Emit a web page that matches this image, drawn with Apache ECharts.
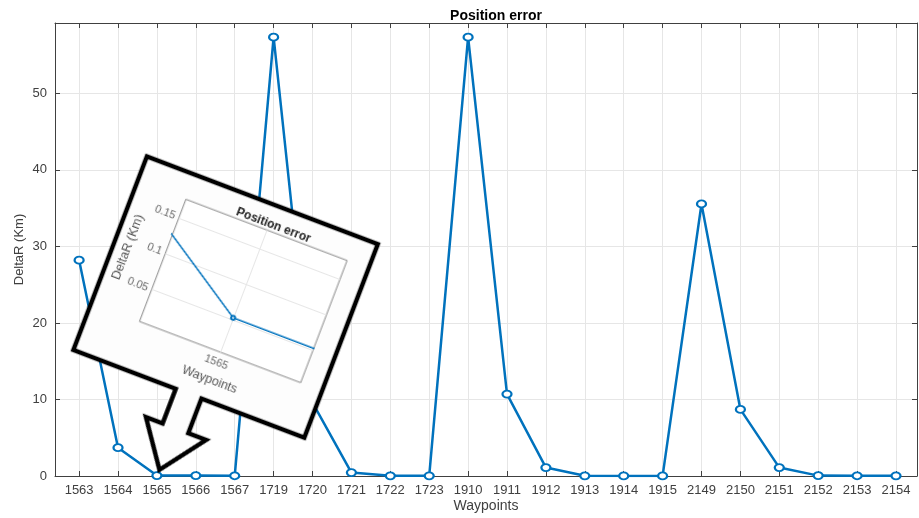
<!DOCTYPE html>
<html>
<head>
<meta charset="utf-8">
<title>Position error</title>
<script src="https://cdn.jsdelivr.net/npm/echarts@6.0.0/dist/echarts.min.js"></script>
<style>
  html, body { margin: 0; padding: 0; background: #fff; }
  #wrap { position: relative; width: 919px; height: 518px; overflow: hidden; }
  #main { width: 919px; height: 518px; }
  /* callout with the zoomed view, tilted like the pasted screenshot */
  #inset {
    position: absolute; left: 144.4px; top: 150.3px;
    width: 262px; height: 302px;
    transform-origin: 0 0; transform: rotate(20.8deg);
  }
</style>
</head>
<body>
<div id="wrap">
  <div id="main"></div>
  <div id="inset"></div>
</div>
<script>
const waypoints = ['1563', '1564', '1565', '1566', '1567', '1719', '1720', '1721', '1722', '1723', '1910',
  '1911', '1912', '1913', '1914', '1915', '2149', '2150', '2151', '2152', '2153', '2154']
const deltaR = [28.2, 3.7, 0.053, 0.053, 0.03, 57.35, 9.6, 0.45, 0.02, 0.02, 57.35,
  10.7, 1.1, 0.02, 0.01, 0.01, 35.55, 8.7, 1.1, 0.05, 0.03, 0.02]
const yTicks = [0, 10, 20, 30, 40, 50]
const insetYTicks = [0.05, 0.1, 0.15]
const insetXTicks = [2] // index of 1565

const font = 'Arial, "Liberation Sans", Helvetica, sans-serif'
const axisGray = '#404040'
const gridGray = '#e6e6e6'
const lineBlue = '#0072BD'

const xIdx = waypoints.map((_, i) => i)
const points = deltaR.map((v, i) => [i, v])

// Main chart
const main = echarts.init(document.getElementById('main'))
const xBase = {
  type: 'value',
  min: -0.62,
  max: 21.54,
  axisLine: { show: true, onZero: false, lineStyle: { color: axisGray } },
  axisTick: { show: true, inside: true, length: 5, customValues: xIdx, lineStyle: { color: axisGray } },
}
const yBase = {
  type: 'value',
  min: 0,
  max: 59.2,
  axisLine: { show: true, onZero: false, lineStyle: { color: axisGray } },
  axisTick: { show: true, inside: true, length: 5, customValues: yTicks, lineStyle: { color: axisGray } },
}

main.setOption({
  animation: false,
  backgroundColor: '#fff',
  title: {
    text: 'Position error',
    left: 491,
    textAlign: 'center',
    top: 4,
    textStyle: { fontSize: 14, fontWeight: 'bold', color: '#000', fontFamily: font },
  },
  grid: { left: 55, right: 2, top: 23, bottom: 42, outerBoundsMode: 'none' },
  xAxis: [
    {
      ...xBase,
      position: 'bottom',
      axisLabel: {
        customValues: xIdx,
        formatter: (v) => waypoints[Math.round(v)],
        color: axisGray, fontSize: 13, fontFamily: font, margin: 8,
      },
      splitLine: { show: true, lineStyle: { color: gridGray } },
      name: 'Waypoints',
      nameLocation: 'middle',
      nameGap: 23,
      nameMoveOverlap: false,
      nameTextStyle: { color: axisGray, fontSize: 14, fontFamily: font },
    },
    { ...xBase, position: 'top', axisLabel: { show: false }, splitLine: { show: false } },
  ],
  yAxis: [
    {
      ...yBase,
      position: 'left',
      axisLabel: { customValues: yTicks, color: axisGray, fontSize: 13, fontFamily: font, margin: 8 },
      splitLine: { show: true, lineStyle: { color: gridGray } },
      name: 'DeltaR (Km)',
      nameLocation: 'middle',
      nameGap: 29,
      nameMoveOverlap: false,
      nameTextStyle: { color: axisGray, fontSize: 13, fontFamily: font },
    },
    { ...yBase, position: 'right', axisLabel: { show: false }, splitLine: { show: false } },
  ],
  series: [
    {
      type: 'line',
      data: points,
      xAxisIndex: 0,
      yAxisIndex: 0,
      symbol: 'emptyCircle',
      symbolSize: [9, 7],
      lineStyle: { color: lineBlue, width: 2.5 },
      itemStyle: { color: lineBlue, borderWidth: 2 },
    },
  ],
})

// Callout with zoomed view around 1565
const pad = 5
const callout = [[0, 0], [247, 0], [247, 207], [137, 207], [137, 244], [156, 244], [123, 288.5],
  [91.7, 244], [109.5, 244], [109.5, 207], [0, 207]].map(([u, v]) => [u + pad, v + pad])

const inset = echarts.init(document.getElementById('inset'))
const ig = { left: pad + 51.7, top: pad + 26.2, width: 172.4, height: 130.7 }
inset.setOption({
  animation: false,
  graphic: [
    {
      type: 'polygon',
      z: -10,
      shape: { points: callout },
      style: { fill: '#fdfdfd', stroke: '#000', lineWidth: 4.5, lineJoin: 'miter' },
    },
  ],
  title: {
    text: 'Position error',
    left: ig.left + ig.width / 2,
    textAlign: 'center',
    top: ig.top - 18,
    textStyle: { fontSize: 12, fontWeight: 'bold', color: '#222', fontFamily: font },
  },
  grid: { ...ig, outerBoundsMode: 'none', show: true, backgroundColor: '#fff', borderColor: '#8a8a8a', borderWidth: 1 },
  xAxis: {
    type: 'value',
    min: 1.98,
    max: 2.02,
    axisLine: { show: false },
    axisTick: { show: false, customValues: insetXTicks },
    axisLabel: {
      customValues: insetXTicks,
      formatter: (v) => waypoints[Math.round(v)],
      color: '#666', fontSize: 11, fontFamily: font, margin: 6,
    },
    splitLine: { show: true, lineStyle: { color: gridGray } },
    name: 'Waypoints',
    nameLocation: 'middle',
    nameGap: 23,
    nameMoveOverlap: false,
    nameTextStyle: { color: '#555', fontSize: 12.5, fontFamily: font },
  },
  yAxis: {
    type: 'value',
    min: 0.005,
    max: 0.176,
    axisLine: { show: false },
    axisTick: { show: false, customValues: insetYTicks },
    axisLabel: { customValues: insetYTicks, color: '#666', fontSize: 11, fontFamily: font, margin: 4 },
    splitLine: { show: true, lineStyle: { color: gridGray } },
    name: 'DeltaR (Km)',
    nameLocation: 'middle',
    nameGap: 31,
    nameMoveOverlap: false,
    nameTextStyle: { color: '#555', fontSize: 12.5, fontFamily: font },
  },
  series: [
    {
      type: 'line',
      data: points,
      clip: true,
      symbol: 'emptyCircle',
      symbolSize: 4,
      lineStyle: { color: lineBlue, width: 1.5 },
      itemStyle: { color: lineBlue, borderWidth: 1 },
    },
  ],
})
</script>
</body>
</html>
